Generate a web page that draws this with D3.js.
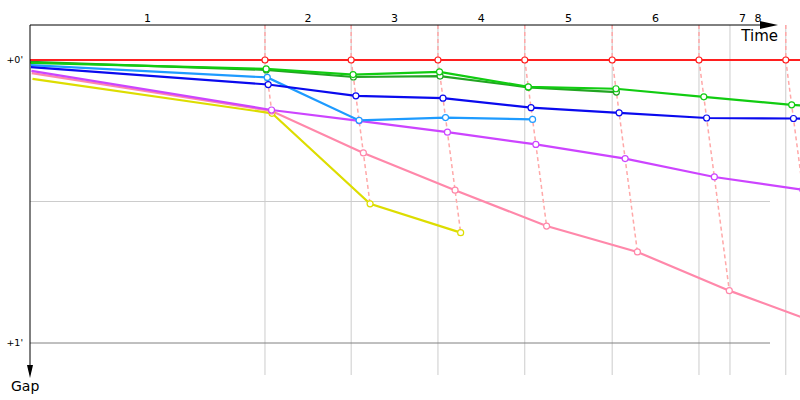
<!DOCTYPE html>
<html>
<head>
<meta charset="utf-8">
<script src="https://cdn.jsdelivr.net/npm/d3@7"></script>
<style>
  body { margin: 0; background: #fff; }
  svg { display: block; font-family: "DejaVu Sans", Verdana, sans-serif; }
</style>
</head>
<body>
<svg width="800" height="400"></svg>
<script>
// leader's cumulative time (s) at the end of each lap, lap 0 = start
var leaderTimes = [0, 379, 518, 658, 798, 939, 1079, 1219, 1360];

// gap to the leader (s) at the end of each lap, index = lap
var redGaps = [0, 0, 0, 0, 0, 0, 0, 0, 0];
var greenGaps = [0.6, 1.9, 3.1, 2.5, 5.7, 6.1, 7.8, 9.5, 10.8];
var darkGreenGaps = [0.4, 2.1, 3.6, 3.4, 5.8, 6.8];
var lightBlueGaps = [1.1, 3.7, 12.8, 12.2, 12.6];
var blueGaps = [1.5, 5.2, 7.6, 8.1, 10.1, 11.2, 12.3, 12.4, 12.7];
var purpleGaps = [2.3, 10.6, 12.9, 15.3, 17.9, 20.9, 24.8, 27.5];
var pinkGaps = [2.8, 10.8, 19.7, 27.6, 35.2, 40.7, 48.9, 56];
var yellowGaps = [4.0, 11.3, 30.5, 36.6];

var gridTimes = [379, 518, 658, 798, 939, 1079, 1129, 1219];
var lapLabels = ["1", "2", "3", "4", "5", "6", "7", "8"];
var lapLabelTimes = [189.5, 448.5, 588, 728, 868.5, 1009, 1149, 1174];
var gapTicks = [0, 30, 60];
var gapTickLabels = ["+0'", "", "+1'"];

var series = [
	{ gaps: darkGreenGaps, color: "#22a522" },
	{ gaps: greenGaps, color: "#11cc11" },
	{ gaps: yellowGaps, color: "#dddd00" },
	{ gaps: pinkGaps, color: "#ff88aa" },
	{ gaps: purpleGaps, color: "#cc44ff" },
	{ gaps: lightBlueGaps, color: "#1e9bff" },
	{ gaps: blueGaps, color: "#0a0aee" },
	{ gaps: redGaps, color: "#ff1f1f" }
];

var svg = d3.select("svg");
var left = 30, topY = 25, right = 770, bottom = 375;

var x = d3.scaleLinear().domain([0, 1200]).range([left, left + 744]);
var y = d3.scaleLinear().domain([0, 60]).range([60, 343]);

// each point sits at the time the car finished the lap
series.forEach(function(s) {
	s.points = s.gaps.map(function(g, i) {
		return { lap: i, gap: g, t: leaderTimes[i] + g };
	});
});

// grid
svg.append("g").selectAll("line")
	.data(gridTimes)
	.enter().append("line")
	.attr("x1", function(d) { return x(d); })
	.attr("x2", function(d) { return x(d); })
	.attr("y1", topY)
	.attr("y2", bottom)
	.attr("stroke", "#cccccc");

svg.append("g").selectAll("line")
	.data(gapTicks)
	.enter().append("line")
	.attr("x1", left)
	.attr("x2", right)
	.attr("y1", function(d) { return y(d); })
	.attr("y2", function(d) { return y(d); })
	.attr("stroke", function(d) { return d == 60 ? "#808080" : "#cccccc"; });

svg.append("g").selectAll("text")
	.data(gapTicks)
	.enter().append("text")
	.attr("x", 23)
	.attr("y", function(d) { return y(d) + 3; })
	.attr("text-anchor", "end")
	.attr("font-size", 9.5)
	.text(function(d, i) { return gapTickLabels[i]; });

// lap lines: one dashed line per lap through every car that finished it
var lapLine = d3.line()
	.x(function(d) { return x(d.t); })
	.y(function(d) { return d.y; });

for (var lap = 1; lap < leaderTimes.length; lap++) {
	var pts = [];
	series.forEach(function(s) {
		if (s.points[lap]) pts.push(s.points[lap]);
	});
	pts.sort(function(a, b) { return a.gap - b.gap; });
	var path = [{ t: leaderTimes[lap], y: topY }].concat(pts.map(function(p) {
		return { t: p.t, y: y(p.gap) };
	}));
	svg.append("path")
		.attr("d", lapLine(path))
		.attr("fill", "none")
		.attr("stroke", "#ffa8a8")
		.attr("stroke-width", 1.5)
		.attr("stroke-dasharray", "4,3");
}

// race lines
var line = d3.line()
	.x(function(d) { return x(d.t); })
	.y(function(d) { return y(d.gap); });

series.forEach(function(s) {
	svg.append("path")
		.attr("d", line(s.points))
		.attr("fill", "none")
		.attr("stroke", s.color)
		.attr("stroke-width", 2.2);
});

series.forEach(function(s) {
	svg.append("g").selectAll("circle")
		.data(s.points.slice(1))
		.enter().append("circle")
		.attr("cx", function(d) { return x(d.t); })
		.attr("cy", function(d) { return y(d.gap); })
		.attr("r", 3)
		.attr("fill", "#fff")
		.attr("stroke", s.color)
		.attr("stroke-width", 1.2);
});

// axes
svg.append("line")
	.attr("x1", left).attr("x2", right + 2)
	.attr("y1", topY).attr("y2", topY)
	.attr("stroke", "#000");
svg.append("path")
	.attr("d", "M" + (right - 10) + "," + (topY - 4) + "L" + (right + 8) + "," + topY + "L" + (right - 10) + "," + (topY + 4) + "Z")
	.attr("fill", "#000");
svg.append("line")
	.attr("x1", left).attr("x2", left)
	.attr("y1", topY).attr("y2", bottom - 6)
	.attr("stroke", "#000");
svg.append("path")
	.attr("d", "M" + (left - 3) + "," + (bottom - 10) + "L" + left + "," + (bottom + 3) + "L" + (left + 3) + "," + (bottom - 10) + "Z")
	.attr("fill", "#000");

svg.append("g").selectAll("text")
	.data(lapLabels)
	.enter().append("text")
	.attr("x", function(d, i) { return x(lapLabelTimes[i]); })
	.attr("y", 22)
	.attr("text-anchor", "middle")
	.attr("font-size", 11)
	.text(function(d) { return d; });

svg.append("text")
	.attr("x", 778)
	.attr("y", 41)
	.attr("text-anchor", "end")
	.attr("font-size", 15)
	.text("Time");

svg.append("text")
	.attr("x", 11)
	.attr("y", 391)
	.attr("font-size", 14)
	.text("Gap");
</script>
</body>
</html>
